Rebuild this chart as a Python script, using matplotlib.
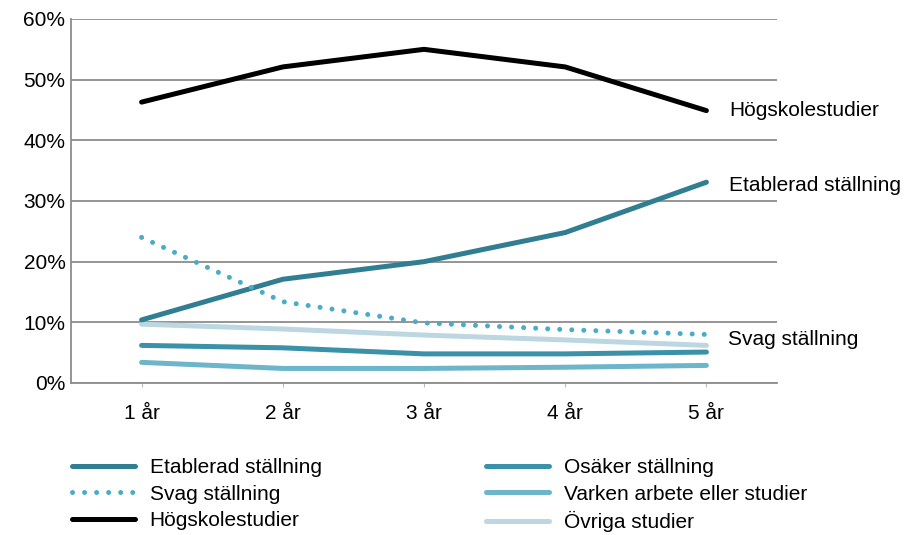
import matplotlib

matplotlib.use("Agg")
import matplotlib.pyplot as plt
from matplotlib.ticker import PercentFormatter

YEARS = ["1 år", "2 år", "3 år", "4 år", "5 år"]

ETABLERAD = [10.4, 17.1, 20.0, 24.8, 33.1]
OSAKER = [6.2, 5.8, 4.8, 4.8, 5.1]
SVAG = [24.0, 13.4, 9.9, 8.8, 8.0]
VARKEN = [3.4, 2.4, 2.4, 2.6, 2.9]
HOGSKOLA = [46.3, 52.1, 55.0, 52.1, 44.9]
OVRIGA = [9.7, 8.9, 7.9, 7.1, 6.2]

plt.rcParams.update(
    {
        "font.family": ["Liberation Sans", "DejaVu Sans"],
        "font.size": 15,
        "figure.facecolor": "white",
        "axes.facecolor": "white",
    }
)

fig = plt.figure(figsize=(9.09, 5.35), dpi=100)
ax = fig.add_axes([71 / 909, 1 - 383 / 535, (777 - 71) / 909, (383 - 19) / 535])

x = list(range(1, len(YEARS) + 1))
lw = 3.6
h_etab, = ax.plot(x, ETABLERAD, color="#317E93", lw=lw, solid_capstyle="round", label="Etablerad ställning", zorder=4)
h_svag, = ax.plot(x, SVAG, color="#4AACC6", lw=lw, linestyle=(0, (0.01, 2.4)), dash_capstyle="round",
                  label="Svag ställning", zorder=4)
h_hog, = ax.plot(x, HOGSKOLA, color="black", lw=lw, solid_capstyle="round", label="Högskolestudier", zorder=4)
h_osa, = ax.plot(x, OSAKER, color="#3B91A7", lw=lw, solid_capstyle="round", label="Osäker ställning", zorder=4)
h_var, = ax.plot(x, VARKEN, color="#6DB5CB", lw=lw, solid_capstyle="round", label="Varken arbete eller studier", zorder=4)
h_ovr, = ax.plot(x, OVRIGA, color="#BCD7E2", lw=lw, solid_capstyle="round", label="Övriga studier", zorder=3)

ax.text(x[-1] + 0.16, HOGSKOLA[-1], "Högskolestudier", va="center", ha="left", clip_on=False)
ax.text(x[-1] + 0.16, ETABLERAD[-1] - 0.5, "Etablerad ställning", va="center", ha="left", clip_on=False)
ax.text(x[-1] + 0.15, SVAG[-1] - 0.8, "Svag ställning", va="center", ha="left", clip_on=False)

ax.set_xlim(0.5, len(YEARS) + 0.5)
ax.set_ylim(0, 60)
ax.set_xticks(x, YEARS)
ax.set_yticks(range(0, 61, 10))
ax.yaxis.set_major_formatter(PercentFormatter(decimals=0))
ax.grid(axis="y", color="#8c8c8c", linewidth=1.3, zorder=0)
ax.set_axisbelow(True)
ax.tick_params(axis="y", length=0, pad=4)
ax.tick_params(axis="x", length=3, color="#bbbbbb", pad=12)
for spine in ["top", "right"]:
    ax.spines[spine].set_visible(False)
for spine in ["left", "bottom"]:
    ax.spines[spine].set_color("#8c8c8c")
    ax.spines[spine].set_linewidth(1.3)

fig.legend(
    handles=[h_etab, h_svag, h_hog, h_osa, h_var, h_ovr],
    loc="upper left",
    bbox_to_anchor=(72 / 909, 1 - 458 / 535),
    ncol=2,
    frameon=False,
    handlelength=3.0,
    handletextpad=0.72,
    labelspacing=0.36,
    columnspacing=7.9,
    borderaxespad=0,
    borderpad=0,
)

fig.savefig("out.png", dpi=100)
